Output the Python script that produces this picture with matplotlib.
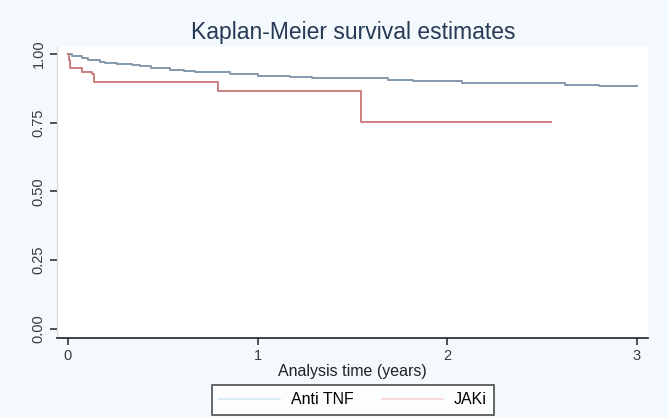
import matplotlib.pyplot as plt
from matplotlib.lines import Line2D

plt.rcParams['font.family'] = ['Liberation Sans', 'DejaVu Sans']

# Kaplan-Meier step points (time in years, survival)
anti_t = [0, 0.02, 0.074, 0.106, 0.17, 0.195, 0.26, 0.34, 0.38, 0.44, 0.54, 0.61, 0.67,
          0.855, 1.0, 1.17, 1.29, 1.69, 1.82, 2.08, 2.62, 2.80, 3.0]
anti_s = [1.0, 0.993, 0.984, 0.978, 0.972, 0.968, 0.963, 0.959, 0.956, 0.948, 0.942, 0.936, 0.933,
          0.926, 0.920, 0.917, 0.913, 0.906, 0.900, 0.893, 0.886, 0.884, 0.884]
jak_t = [0, 0.003, 0.011, 0.075, 0.125, 0.137, 0.793, 1.545, 2.55]
jak_s = [1.0, 0.978, 0.948, 0.933, 0.926, 0.896, 0.865, 0.754, 0.754]

labels = ['Anti TNF', 'JAKi']
xticks = [0, 1, 2, 3]
yticks = [0.0, 0.25, 0.5, 0.75, 1.0]

bg = '#f3f9fd'
fig = plt.figure(figsize=(6.68, 4.18), dpi=100, facecolor=bg)
ax = fig.add_axes([0.0853, 0.1914, 0.970 - 0.0853, 0.8876 - 0.1914])
ax.set_facecolor('white')

ax.step(anti_t, anti_s, where='post', color='#8499ac', lw=1.4)
ax.step(jak_t, jak_s, where='post', color='#c87474', lw=1.3)

ax.set_xlim(-0.058, 3.06)
ax.set_ylim(-0.033, 1.025)
ax.set_xticks(xticks)
ax.set_yticks(yticks)
ax.set_yticklabels(['%.2f' % v for v in yticks], rotation=90, va='center')

for s in ['top', 'right']:
    ax.spines[s].set_visible(False)
ax.spines['left'].set_color('#d0d4d8')
ax.spines['bottom'].set_color('#222222')
ax.spines['bottom'].set_linewidth(1.2)
ax.tick_params(axis='both', direction='out', length=5, width=1.1, color='#222222',
               labelsize=10.5, labelcolor='#3a3a3a')
ax.tick_params(axis='y', pad=3)
ax.tick_params(axis='x', pad=3)

ax.set_xlabel('Analysis time (years)', fontsize=11.5, color='#222222', labelpad=1)
fig.text(353 / 668, 1 - 32 / 418, 'Kaplan-Meier survival estimates', ha='center', va='center',
         fontsize=16.5, color='#263a55')

handles = [Line2D([], [], color='#d4e8f4', lw=1.2), Line2D([], [], color='#f6d2d2', lw=1.2)]
leg = fig.legend(handles, labels, loc='center', bbox_to_anchor=(353 / 668, 1 - 400 / 418),
                 ncol=2, fontsize=11.5, frameon=True, fancybox=False, handlelength=3.8,
                 columnspacing=1.8, handletextpad=0.7, borderpad=0.45)
leg.get_frame().set_edgecolor('#111111')
leg.get_frame().set_linewidth(1.1)
leg.get_frame().set_facecolor('white')

plt.savefig('out.png', dpi=100, facecolor=bg)
